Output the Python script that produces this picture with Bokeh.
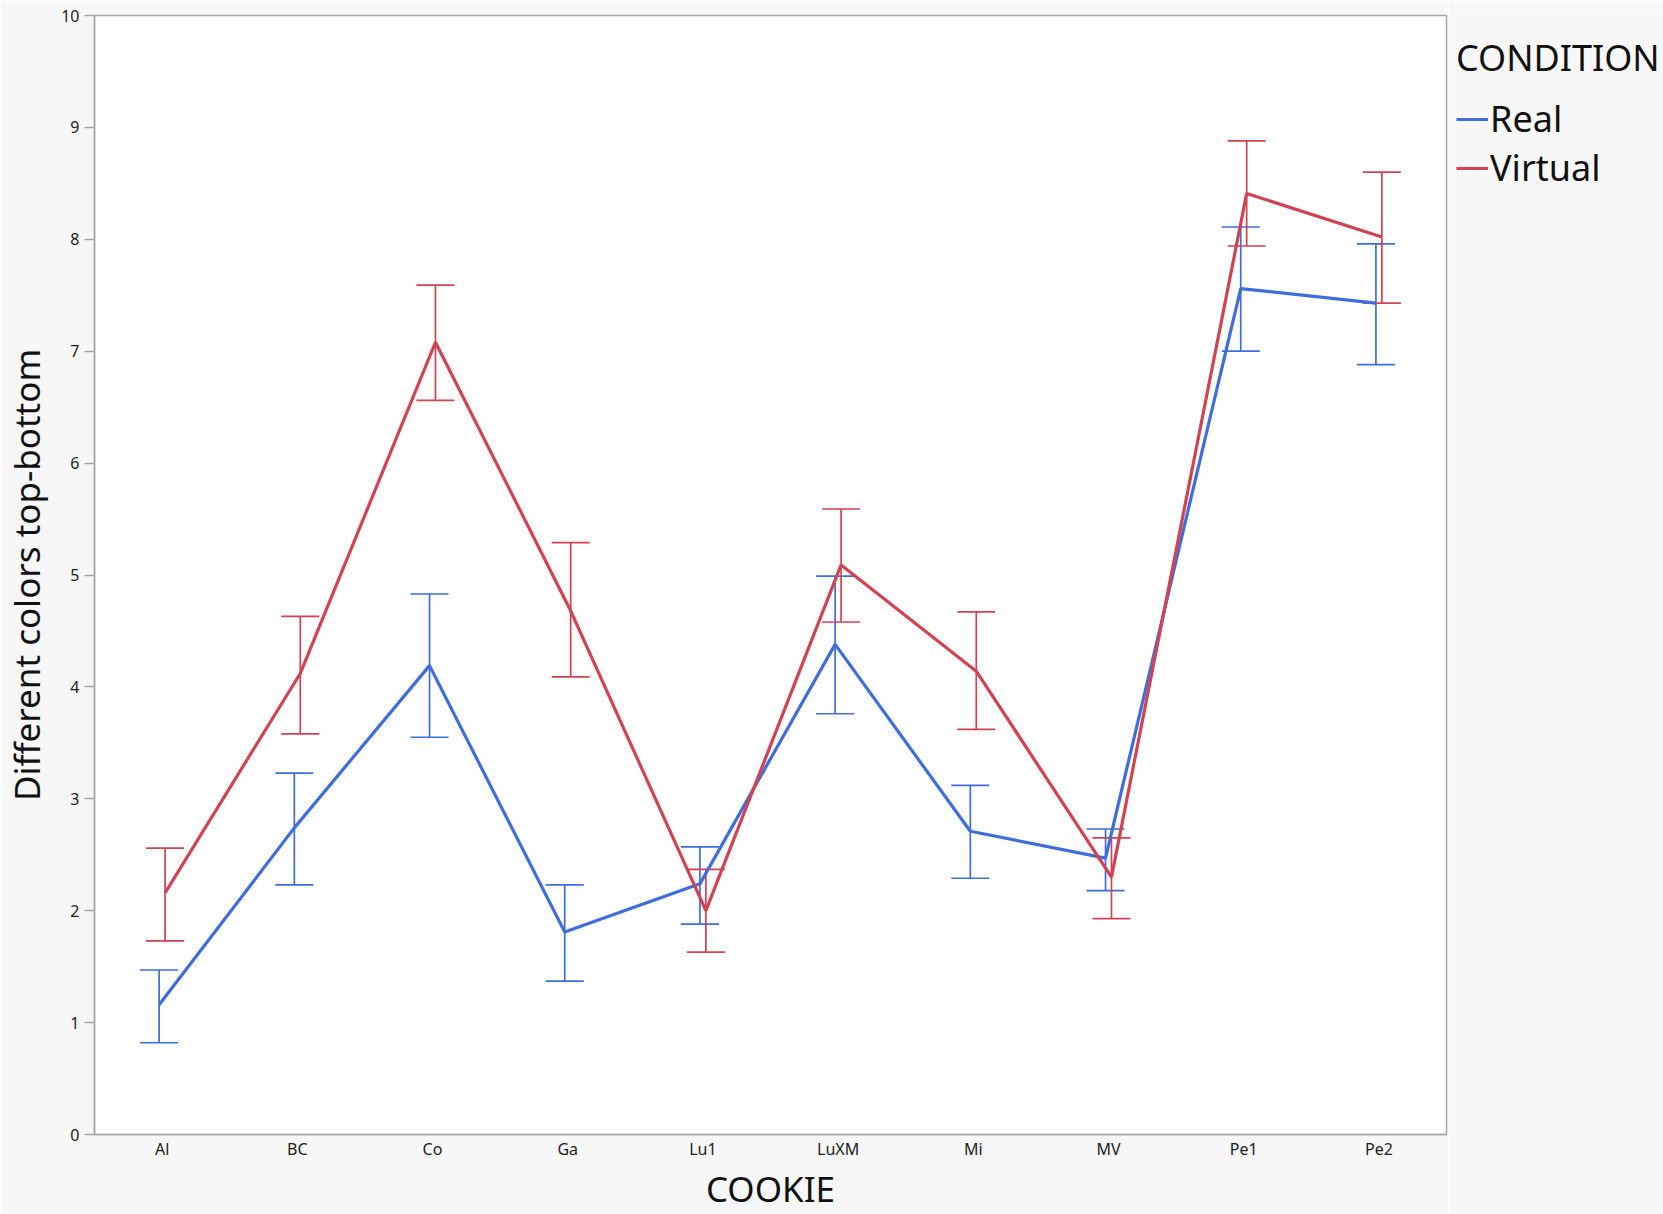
from bokeh.plotting import figure
from bokeh.layouts import row
from bokeh.models import (ColumnDataSource, FactorRange, Range1d, Whisker, TeeHead,
                          Legend, LegendItem, FixedTicker)
from bokeh.transform import dodge
from bokeh.embed import file_html
from bokeh.resources import INLINE

cookies = ["Al", "BC", "Co", "Ga", "Lu1", "LuXM", "Mi", "MV", "Pe1", "Pe2"]
conditions = ["Real", "Virtual"]
real_mean = [1.16, 2.74, 4.19, 1.81, 2.24, 4.38, 2.71, 2.47, 7.56, 7.43]
real_upper = [1.47, 3.23, 4.83, 2.23, 2.57, 4.99, 3.12, 2.73, 8.11, 7.96]
real_lower = [0.82, 2.23, 3.55, 1.37, 1.88, 3.76, 2.29, 2.18, 7.00, 6.88]
virt_mean = [2.16, 4.12, 7.08, 4.68, 2.00, 5.09, 4.14, 2.30, 8.41, 8.02]
virt_upper = [2.56, 4.63, 7.59, 5.29, 2.37, 5.59, 4.67, 2.65, 8.88, 8.60]
virt_lower = [1.73, 3.58, 6.56, 4.09, 1.63, 4.58, 3.62, 1.93, 7.94, 7.43]
y_ticks = [0, 1, 2, 3, 4, 5, 6, 7, 8, 9, 10]

BLUE = "#3f6ddc"
RED = "#cf4352"
BG = "#f7f7f7"
AXIS = "#a6a6a6"
FONT = "Noto Sans"

p = figure(width=1448, height=1214, x_range=FactorRange(factors=cookies),
           y_range=Range1d(0, 10), output_backend="svg", toolbar_location=None,
           min_border_left=93, min_border_right=2, min_border_top=15,
           min_border_bottom=80)
p.background_fill_color = "white"
p.border_fill_color = BG
p.outline_line_color = AXIS
p.outline_line_width = 1.5
p.xgrid.visible = False
p.ygrid.visible = False

# legend panel (separate figure placed to the right of the chart);
# its ranges lie away from the data so only the legend keys show
lf = figure(width=215, height=1214, x_range=Range1d(-2, -1), y_range=Range1d(-2, -1),
            output_backend="svg", toolbar_location=None, min_border=0)
lf.axis.visible = False
lf.grid.visible = False
lf.outline_line_color = None
lf.background_fill_color = BG
lf.border_fill_color = BG

src_r = ColumnDataSource(dict(cookie=cookies, mean=real_mean, upper=real_upper, lower=real_lower))
src_v = ColumnDataSource(dict(cookie=cookies, mean=virt_mean, upper=virt_upper, lower=virt_lower))

items = []
for src, color, off, name in [(src_r, BLUE, -0.022, conditions[0]), (src_v, RED, 0.022, conditions[1])]:
    base = dodge("cookie", off, range=p.x_range)
    w = Whisker(source=src, base=base, upper="upper", lower="lower",
                line_color=color, line_width=1.7,
                upper_head=TeeHead(size=38, line_color=color, line_width=1.7),
                lower_head=TeeHead(size=38, line_color=color, line_width=1.7))
    p.add_layout(w)
    p.line(x=base, y="mean", source=src, line_color=color, line_width=3.2)
    key = lf.line(x="mean", y="mean", source=src, line_color=color, line_width=3.2)
    items.append(LegendItem(label=name, renderers=[key]))

legend = Legend(items=items, title="CONDITION", location=(8, 942),
                title_text_font=FONT, title_text_font_size="36px", title_text_color="#111111",
                title_text_font_style="normal",
                label_text_font=FONT, label_text_font_size="36px", label_text_color="#111111",
                glyph_width=32, glyph_height=34, label_standoff=2, spacing=0,
                padding=0, margin=0, border_line_color=None,
                background_fill_alpha=0, title_standoff=12, label_height=34)
lf.add_layout(legend, "center")

p.yaxis.ticker = FixedTicker(ticks=y_ticks)
p.yaxis.axis_label = "Different colors top-bottom"
p.xaxis.axis_label = "COOKIE"
for ax in (p.xaxis, p.yaxis):
    ax.axis_line_color = AXIS
    ax.axis_line_width = 1.5
    ax.major_tick_line_color = AXIS
    ax.major_tick_line_width = 1.5
    ax.minor_tick_line_color = None
    ax.major_label_text_font = FONT
    ax.major_label_text_font_size = "16px"
    ax.major_label_text_color = "#222222"
    ax.axis_label_text_font = FONT
    ax.axis_label_text_font_size = "35px"
    ax.axis_label_text_font_style = "normal"
    ax.axis_label_text_color = "#111111"
p.yaxis.major_tick_out = 10
p.yaxis.major_tick_in = 0
p.yaxis.major_label_standoff = 5
p.yaxis.axis_label_standoff = 8
p.xaxis.major_tick_out = 0
p.xaxis.major_tick_in = 0
p.xaxis.major_label_standoff = 3
p.xaxis.axis_label_standoff = 2

layout = row(p, lf, spacing=0)
open("out.html", "w").write(file_html(layout, INLINE))
